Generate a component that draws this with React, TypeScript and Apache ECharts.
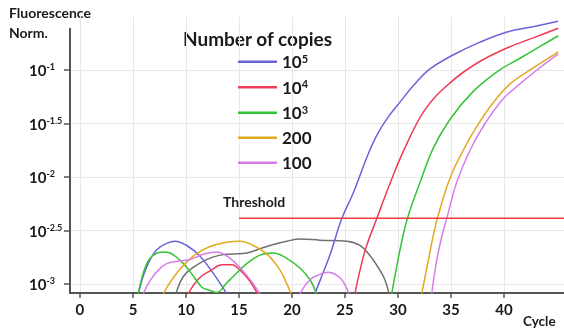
import React, { useEffect, useRef } from 'react';
import * as echarts from 'echarts';

const FONT = 'Lato, "Noto Sans", sans-serif';

// axes (x: PCR cycle, y: log10 of normalised fluorescence)
const xMin = -0.94;
const xMax = 45.66;
const yMin = -3.084;
const yMax = -0.5;
const xTicks = [0, 5, 10, 15, 20, 25, 30, 35, 40];
const yTicks = [-3, -2.5, -2, -1.5, -1];

const legendNames = ['10^5', '10^4', '10^3', '200', '100'];
const thresholdLog = -2.386;
const thresholdStartCycle = 15;

// [cycle, log10 fluorescence]; segments below the axis are separated by GAP
const GAP = [null, '-'];

const copies1e5Noise = [[5.5, -3.09], [6.29, -2.84], [7.24, -2.68], [8.18, -2.62], [8.96, -2.6], [10.07, -2.64], [11.32, -2.74], [12.58, -2.9], [13.84, -3.09]];
const copies1e5Rise = [[22.17, -3.09], [22.83, -2.92], [23.58, -2.73], [24.69, -2.39], [25.78, -2.15], [27.17, -1.79], [28.0, -1.61], [29.0, -1.45], [30.19, -1.3], [31.5, -1.14], [33.02, -0.99], [35.19, -0.86], [37.74, -0.74], [40.28, -0.645], [42.74, -0.595], [45.09, -0.545]];

const copies1e4Noise = [[10.22, -3.09], [11.2, -2.95], [12.4, -2.87], [13.4, -2.82], [14.3, -2.82], [15.2, -2.88], [16.0, -2.97], [16.75, -3.09]];
const copies1e4Rise = [[25.94, -3.09], [26.42, -2.87], [26.98, -2.66], [27.99, -2.39], [29.25, -2.06], [30.6, -1.74], [32.55, -1.37], [34.91, -1.12], [37.55, -0.93], [40.38, -0.79], [42.76, -0.7], [45.12, -0.61]];

const copies1e3Noise = [[5.5, -3.09], [6.13, -2.85], [6.79, -2.74], [7.86, -2.7], [8.49, -2.71], [9.67, -2.8], [10.66, -2.92], [11.51, -3.03], [12.26, -3.06], [12.9, -3.08], [13.84, -2.99], [14.46, -2.93], [15.73, -2.81], [16.98, -2.73], [18.24, -2.71], [19.5, -2.76], [20.75, -2.85], [21.7, -2.96], [22.31, -3.09]];
const copies1e3Rise = [[29.41, -3.09], [29.72, -2.92], [30.19, -2.68], [30.88, -2.39], [32.08, -2.05], [33.33, -1.73], [34.91, -1.46], [37.1, -1.2], [39.43, -1.01], [41.51, -0.89], [43.4, -0.78], [45.12, -0.68]];

const copies200Noise = [[7.86, -3.09], [9.12, -2.9], [10.69, -2.74], [12.26, -2.65], [13.84, -2.61], [15.09, -2.6], [16.35, -2.64], [17.74, -2.73], [18.87, -2.87], [19.43, -2.98], [19.91, -3.09]];
const copies200Rise = [[32.24, -3.09], [32.86, -2.78], [33.3, -2.56], [33.73, -2.38], [34.91, -2.01], [36.16, -1.75], [37.42, -1.53], [38.87, -1.32], [40.57, -1.13], [42.76, -0.98], [45.12, -0.83]];

const copies100Noise1 = [[5.97, -3.09], [6.6, -2.97], [7.39, -2.87], [8.18, -2.81], [8.96, -2.79], [10.38, -2.77], [11.7, -2.72], [12.9, -2.7], [14.15, -2.76], [15.4, -2.88], [16.35, -3.0], [16.98, -3.09]];
const copies100Noise2 = [[20.75, -3.09], [21.7, -2.96], [22.64, -2.91], [23.4, -2.89], [24.25, -2.92], [24.84, -2.98], [25.38, -3.09]];
const copies100Rise = [[33.18, -3.09], [33.65, -2.78], [34.1, -2.57], [34.62, -2.38], [35.54, -2.05], [36.79, -1.75], [38.21, -1.5], [39.91, -1.27], [41.51, -1.13], [43.11, -1.0], [45.12, -0.85]];

const controlCurve = [[9.06, -3.09], [9.75, -2.93], [10.75, -2.84], [11.98, -2.77], [13.21, -2.73], [14.43, -2.72], [15.75, -2.71], [16.98, -2.67], [18.24, -2.63], [19.5, -2.6], [20.75, -2.58], [22.64, -2.59], [25.19, -2.6], [26.42, -2.64], [27.4, -2.74], [28.35, -2.88], [28.8, -2.97], [29.15, -3.09]];

const COLORS = ['#6b63d9', '#ef3b57', '#35c435', '#e2aa22', '#d77de8'];

function joinSegments(...segs: any[][]) {
  const out: any[] = [];
  segs.forEach((s, i) => {
    if (i > 0) out.push(GAP);
    s.forEach((p) => out.push(p));
  });
  return out;
}

const curveData = [
  joinSegments(copies1e5Noise, copies1e5Rise),
  joinSegments(copies1e4Noise, copies1e4Rise),
  joinSegments(copies1e3Noise, copies1e3Rise),
  joinSegments(copies200Noise, copies200Rise),
  joinSegments(copies100Noise1, copies100Noise2, copies100Rise),
];

function richName(name: string) {
  const m = name.split('^');
  return m.length > 1 ? `{b|${m[0]}}{s|${m[1]}}` : `{b|${name}}`;
}

export default function App() {
  const ref = useRef<HTMLDivElement>(null);
  useEffect(() => {
    const chart = echarts.init(ref.current!, null, { renderer: 'svg' });
    const lineSeries: any[] = legendNames.map((name, i) => ({
      name,
      type: 'line',
      data: curveData[i],
      showSymbol: false,
      smooth: 0.4,
      connectNulls: false,
      lineStyle: { color: COLORS[i], width: 1.5 },
      itemStyle: { color: COLORS[i] },
      z: 3,
    }));
    lineSeries.unshift({
      name: 'control',
      type: 'line',
      data: controlCurve,
      showSymbol: false,
      smooth: 0.4,
      lineStyle: { color: '#707070', width: 1.5 },
      itemStyle: { color: '#707070' },
      z: 2,
    });
    lineSeries.push({
      name: 'Threshold',
      type: 'line',
      data: [[thresholdStartCycle, thresholdLog], [xMax, thresholdLog]],
      showSymbol: false,
      lineStyle: { color: '#f23a3a', width: 1.5 },
      itemStyle: { color: '#f23a3a' },
      z: 4,
    });

    chart.setOption({
      animation: false,
      grid: { left: 70, right: 0, top: 16.5, bottom: 35, containLabel: false },
      xAxis: {
        type: 'value',
        min: xMin,
        max: xMax,
        axisLine: { show: true, onZero: false, lineStyle: { color: '#555', width: 2 } },
        axisTick: { show: true, length: 5, customValues: xTicks, lineStyle: { color: '#555', width: 1.5 } },
        axisLabel: {
          customValues: xTicks,
          margin: 8,
          color: '#1a1a1a',
          fontSize: 15,
          fontWeight: 'bold',
          fontFamily: FONT,
        },
        splitLine: { show: true, lineStyle: { color: '#e8e8e8', width: 1 } },
      },
      yAxis: {
        type: 'value',
        min: yMin,
        max: yMax,
        axisLine: { show: false, onZero: false },
        axisTick: { show: true, length: 6, customValues: yTicks, lineStyle: { color: '#555', width: 1.5 } },
        axisLabel: {
          customValues: yTicks,
          align: 'left',
          margin: 41,
          formatter: (v: number) => `{b|10}{s|${v}}`,
          rich: {
            b: { fontSize: 15, fontWeight: 'bold', fontFamily: FONT, color: '#1a1a1a', lineHeight: 16 },
            s: { fontSize: 9, fontWeight: 'bold', fontFamily: FONT, color: '#1a1a1a', lineHeight: 9, verticalAlign: 'top' },
          },
        },
        splitLine: { show: true, lineStyle: { color: '#e8e8e8', width: 1 } },
      },
      legend: {
        data: legendNames,
        orient: 'vertical',
        left: 238,
        top: 52.7,
        padding: 0,
        itemWidth: 39,
        itemHeight: 2.5,
        itemGap: 8,
        icon: 'rect',
        formatter: (name: string) => richName(name),
        textStyle: {
          fontFamily: FONT,
          fontWeight: 'bold',
          fontSize: 17,
          color: '#1a1a1a',
          rich: {
            b: { fontSize: 17, fontWeight: 'bold', fontFamily: FONT, color: '#1a1a1a', lineHeight: 18 },
            s: { fontSize: 11, fontWeight: 'bold', fontFamily: FONT, color: '#1a1a1a', lineHeight: 10, verticalAlign: 'top' },
          },
        },
      },
      graphic: [
        { type: 'line', shape: { x1: 70, y1: 28, x2: 70, y2: 294 }, style: { stroke: '#555', lineWidth: 2 }, z: 10 },
        { type: 'text', x: 9, y: 12.5, style: { text: 'Fluorescence', fill: '#1a1a1a', fontSize: 14, fontWeight: 'bold', fontFamily: FONT, verticalAlign: 'middle' } },
        { type: 'text', x: 9, y: 32, style: { text: 'Norm.', fill: '#1a1a1a', fontSize: 14, fontWeight: 'bold', fontFamily: FONT, verticalAlign: 'middle' } },
        { type: 'text', x: 183, y: 38, style: { text: 'Number of copies', fill: '#1a1a1a', fontSize: 19, fontWeight: 'bold', fontFamily: FONT, verticalAlign: 'middle' } },
        { type: 'text', x: 223, y: 201, style: { text: 'Threshold', fill: '#1a1a1a', fontSize: 14, fontWeight: 'bold', fontFamily: FONT, verticalAlign: 'middle' } },
        { type: 'text', x: 523, y: 321, style: { text: 'Cycle', fill: '#1a1a1a', fontSize: 13.5, fontWeight: 'bold', fontFamily: FONT, verticalAlign: 'middle' } },
      ],
      series: lineSeries,
    });
    return () => chart.dispose();
  }, []);
  return <div ref={ref} style={{ position: 'fixed', left: 0, top: 0, width: 564, height: 328 }} />;
}
